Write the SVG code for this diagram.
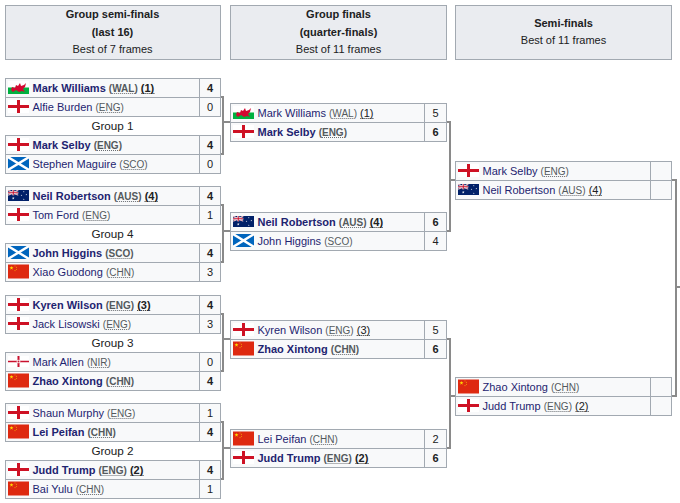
<svg xmlns="http://www.w3.org/2000/svg" xmlns:xlink="http://www.w3.org/1999/xlink" width="680" height="503" viewBox="0 0 680 503">
<style>
.hd{fill:#eaecf0;stroke:#a2a9b1;stroke-width:1}
.cell{fill:#f8f9fa;stroke:#a2a9b1;stroke-width:1}
text{font-family:"Liberation Sans",Arial,sans-serif;font-size:11px;fill:#202122}
.ht{text-anchor:middle}
.b{font-weight:bold}
.n{fill:#1e2470}
.c{font-size:10px;fill:#54595d}
.s{fill:#202122}
.sc{text-anchor:middle}
.g{text-anchor:middle;font-size:11.7px}
.con{fill:none;stroke:#8a8a8a;stroke-width:2}
.ul{fill:none;stroke:#6a6e72;stroke-width:1;stroke-dasharray:1,1}
.us{fill:none;stroke:#202122;stroke-width:1;stroke-dasharray:1,1}
</style>
<defs>
<clipPath id="cl13"><rect y="3" width="21" height="13"/></clipPath>
<clipPath id="cl11"><rect x="0" y="4" width="10.5" height="5.5"/></clipPath>
<path id="star" d="M0,-1 L0.2245,-0.309 L0.951,-0.309 L0.363,0.118 L0.588,0.809 L0,0.382 L-0.588,0.809 L-0.363,0.118 L-0.951,-0.309 L-0.2245,-0.309 Z"/>
<g id="eng"><rect y="3" width="21" height="13" fill="#fff"/><rect y="8" width="21" height="3" fill="#ce1124"/><rect x="9" y="3" width="3" height="13" fill="#ce1124"/></g>
<g id="wal"><rect y="3" width="21" height="6.5" fill="#fff"/><rect y="9.5" width="21" height="6.5" fill="#00b140"/><path d="M3,12 L4,9 L7,10 L8,7 L10,8 L12,5 L13,8 L16,7 L18,5 L17,9 L15,11 L17,14 L14,13 L11,14 L8,12 L5,14 Z" fill="#d30731"/></g>
<g id="sco"><rect y="3" width="21" height="13" fill="#0065bd"/><path d="M0,3 L21,16 M21,3 L0,16" stroke="#fff" stroke-width="2.4" clip-path="url(#cl13)"/></g>
<g id="aus"><rect y="4" width="21" height="11" fill="#012169"/><g clip-path="url(#cl11)"><path d="M0,4 L10.5,9.5 M10.5,4 L0,9.5" stroke="#fff" stroke-width="1.2"/><path d="M0,4 L10.5,9.5 M10.5,4 L0,9.5" stroke="#c8102e" stroke-width=".4"/><rect x="4.25" y="4" width="2" height="5.5" fill="#fff"/><rect x="0" y="5.75" width="10.5" height="2" fill="#fff"/><rect x="4.75" y="4" width="1" height="5.5" fill="#c8102e"/><rect x="0" y="6.25" width="10.5" height="1" fill="#c8102e"/></g><g fill="#fff"><use xlink:href="#star" transform="translate(5.25,12.3) scale(1.4)"/><use xlink:href="#star" transform="translate(15.75,13.3) scale(.8)"/><use xlink:href="#star" transform="translate(13.5,9.3) scale(.8)"/><use xlink:href="#star" transform="translate(15.75,5.8) scale(.8)"/><use xlink:href="#star" transform="translate(18.3,8.6) scale(.8)"/></g></g>
<g id="chn"><rect y="2.5" width="21" height="14" fill="#de2910"/><g fill="#ffde00"><use xlink:href="#star" transform="translate(3.5,6) scale(2.1)"/><use xlink:href="#star" transform="translate(7,3.9) scale(.7)"/><use xlink:href="#star" transform="translate(8.4,5.3) scale(.7)"/><use xlink:href="#star" transform="translate(8.4,7.4) scale(.7)"/><use xlink:href="#star" transform="translate(7,8.8) scale(.7)"/></g></g>
<g id="nir"><rect y="4" width="21" height="11" fill="#fff"/><rect y="8.75" width="21" height="1.5" fill="#c8102e"/><rect x="9.5" y="4" width="2" height="11" fill="#c8102e"/><circle cx="10.5" cy="9.5" r="1.8" fill="#fff"/><circle cx="10.5" cy="9.5" r="1" fill="#c8102e"/></g>
</defs>

<g id="headers">
<g id="h-col1"><rect class="hd" x="5.5" y="5.5" width="215" height="54"/>
<text class="ht b" x="112.5" y="18">Group semi-finals</text><text class="ht b" x="112.5" y="35.5">(last 16)</text><text class="ht" x="112.5" y="53">Best of 7 frames</text></g>
<g id="h-col2"><rect class="hd" x="230.5" y="5.5" width="216" height="54"/>
<text class="ht b" x="338.5" y="18">Group finals</text><text class="ht b" x="338.5" y="35.5">(quarter-finals)</text><text class="ht" x="338.5" y="53">Best of 11 frames</text></g>
<g id="h-col3"><rect class="hd" x="455.5" y="5.5" width="216" height="54"/>
<text class="ht b" x="563.5" y="26.5">Semi-finals</text><text class="ht" x="563.5" y="44">Best of 11 frames</text></g>
</g>

<g id="connectors">
<path class="con" d="M220,97 H223 V154 H220 M223,122 H230"/>
<path class="con" d="M220,205 H223 V262 H220 M223,231 H230"/>
<path class="con" d="M220,314 H223 V371 H220 M223,339 H230"/>
<path class="con" d="M220,422 H223 V479 H220 M223,448 H230"/>
<path class="con" d="M446,122 H450 V231 H446 M450,180 H455"/>
<path class="con" d="M446,339 H450 V448 H446 M450,396 H455"/>
<path class="con" d="M671,180 H676 V396 H671 M676,287 H680"/>
</g>

<!-- Column 1 -->
<g id="g1-m1">
<rect class="cell" x="5.5" y="78.5" width="194" height="19"/><rect class="cell" x="199.5" y="78.5" width="21" height="19"/>
<use xlink:href="#wal" x="8" y="78"/><text class="n b" x="32.5" y="91.5">Mark Williams <tspan class="c">(WAL)</tspan> <tspan class="s">(1)</tspan></text><text class="sc b" x="210" y="91.5">4</text>
<path class="ul" d="M112.2,93.5 H135"/><path class="us" d="M141.4,93.5 H154.8"/>
<rect class="cell" x="5.5" y="97.5" width="194" height="19"/><rect class="cell" x="199.5" y="97.5" width="21" height="19"/>
<use xlink:href="#eng" x="8" y="97"/><text class="n" x="32.5" y="110.5">Alfie Burden <tspan class="c">(ENG)</tspan></text><text class="sc" x="210" y="110.5">0</text>
<path class="ul" d="M98.8,112.5 H120.5"/>
</g>
<text id="lbl-g1" class="g" x="112.5" y="129.7">Group 1</text>
<g id="g1-m2">
<rect class="cell" x="5.5" y="135.5" width="194" height="19"/><rect class="cell" x="199.5" y="135.5" width="21" height="19"/>
<use xlink:href="#eng" x="8" y="135"/><text class="n b" x="32.5" y="148.5">Mark Selby <tspan class="c">(ENG)</tspan></text><text class="sc b" x="210" y="148.5">4</text>
<path class="ul" d="M97,150.5 H118.6"/>
<rect class="cell" x="5.5" y="154.5" width="194" height="19"/><rect class="cell" x="199.5" y="154.5" width="21" height="19"/>
<use xlink:href="#sco" x="8" y="154"/><text class="n" x="32.5" y="167.5">Stephen Maguire <tspan class="c">(SCO)</tspan></text><text class="sc" x="210" y="167.5">0</text>
<path class="ul" d="M122.7,169.5 H144.3"/>
</g>

<g id="g4-m1">
<rect class="cell" x="5.5" y="186.5" width="194" height="19"/><rect class="cell" x="199.5" y="186.5" width="21" height="19"/>
<use xlink:href="#aus" x="8" y="186"/><text class="n b" x="32.5" y="199.5">Neil Robertson <tspan class="c">(AUS)</tspan> <tspan class="s">(4)</tspan></text><text class="sc b" x="210" y="199.5">4</text>
<path class="ul" d="M117.1,201.5 H138.2"/><path class="us" d="M144.6,201.5 H158"/>
<rect class="cell" x="5.5" y="205.5" width="194" height="19"/><rect class="cell" x="199.5" y="205.5" width="21" height="19"/>
<use xlink:href="#eng" x="8" y="205"/><text class="n" x="32.5" y="218.5">Tom Ford <tspan class="c">(ENG)</tspan></text><text class="sc" x="210" y="218.5">1</text>
<path class="ul" d="M86.6,220.5 H108.2"/>
</g>
<text id="lbl-g4" class="g" x="112.5" y="237.7">Group 4</text>
<g id="g4-m2">
<rect class="cell" x="5.5" y="243.5" width="194" height="19"/><rect class="cell" x="199.5" y="243.5" width="21" height="19"/>
<use xlink:href="#sco" x="8" y="243"/><text class="n b" x="32.5" y="256.5">John Higgins <tspan class="c">(SCO)</tspan></text><text class="sc b" x="210" y="256.5">4</text>
<path class="ul" d="M108.6,258.5 H130.2"/>
<rect class="cell" x="5.5" y="262.5" width="194" height="19"/><rect class="cell" x="199.5" y="262.5" width="21" height="19"/>
<use xlink:href="#chn" x="8" y="262"/><text class="n" x="32.5" y="275.5">Xiao Guodong <tspan class="c">(CHN)</tspan></text><text class="sc" x="210" y="275.5">3</text>
<path class="ul" d="M109.2,277.5 H130.9"/>
</g>

<g id="g3-m1">
<rect class="cell" x="5.5" y="295.5" width="194" height="19"/><rect class="cell" x="199.5" y="295.5" width="21" height="19"/>
<use xlink:href="#eng" x="8" y="295"/><text class="n b" x="32.5" y="308.5">Kyren Wilson <tspan class="c">(ENG)</tspan> <tspan class="s">(3)</tspan></text><text class="sc b" x="210" y="308.5">4</text>
<path class="ul" d="M109.2,310.5 H130.9"/><path class="us" d="M137.2,310.5 H150.7"/>
<rect class="cell" x="5.5" y="314.5" width="194" height="19"/><rect class="cell" x="199.5" y="314.5" width="21" height="19"/>
<use xlink:href="#eng" x="8" y="314"/><text class="n" x="32.5" y="327.5">Jack Lisowski <tspan class="c">(ENG)</tspan></text><text class="sc" x="210" y="327.5">3</text>
<path class="ul" d="M106.1,329.5 H127.8"/>
</g>
<text id="lbl-g3" class="g" x="112.5" y="346.7">Group 3</text>
<g id="g3-m2">
<rect class="cell" x="5.5" y="352.5" width="194" height="19"/><rect class="cell" x="199.5" y="352.5" width="21" height="19"/>
<use xlink:href="#nir" x="8" y="352"/><text class="n" x="32.5" y="365.5">Mark Allen <tspan class="c">(NIR)</tspan></text><text class="sc" x="210" y="365.5">0</text>
<path class="ul" d="M90.8,367.5 H108.1"/>
<rect class="cell" x="5.5" y="371.5" width="194" height="19"/><rect class="cell" x="199.5" y="371.5" width="21" height="19"/>
<use xlink:href="#chn" x="8" y="371"/><text class="n b" x="32.5" y="384.5">Zhao Xintong <tspan class="c">(CHN)</tspan></text><text class="sc b" x="210" y="384.5">4</text>
<path class="ul" d="M109.2,386.5 H130.8"/>
</g>

<g id="g2-m1">
<rect class="cell" x="5.5" y="403.5" width="194" height="19"/><rect class="cell" x="199.5" y="403.5" width="21" height="19"/>
<use xlink:href="#eng" x="8" y="403"/><text class="n" x="32.5" y="416.5">Shaun Murphy <tspan class="c">(ENG)</tspan></text><text class="sc" x="210" y="416.5">1</text>
<path class="ul" d="M110.4,418.5 H132.1"/>
<rect class="cell" x="5.5" y="422.5" width="194" height="19"/><rect class="cell" x="199.5" y="422.5" width="21" height="19"/>
<use xlink:href="#chn" x="8" y="422"/><text class="n b" x="32.5" y="435.5">Lei Peifan <tspan class="c">(CHN)</tspan></text><text class="sc b" x="210" y="435.5">4</text>
<path class="ul" d="M90.9,437.5 H112.5"/>
</g>
<text id="lbl-g2" class="g" x="112.5" y="454.7">Group 2</text>
<g id="g2-m2">
<rect class="cell" x="5.5" y="460.5" width="194" height="19"/><rect class="cell" x="199.5" y="460.5" width="21" height="19"/>
<use xlink:href="#eng" x="8" y="460"/><text class="n b" x="32.5" y="473.5">Judd Trump <tspan class="c">(ENG)</tspan> <tspan class="s">(2)</tspan></text><text class="sc b" x="210" y="473.5">4</text>
<path class="ul" d="M102.5,475.5 H124.1"/><path class="us" d="M130.5,475.5 H144"/>
<rect class="cell" x="5.5" y="479.5" width="194" height="19"/><rect class="cell" x="199.5" y="479.5" width="21" height="19"/>
<use xlink:href="#chn" x="8" y="479"/><text class="n" x="32.5" y="492.5">Bai Yulu <tspan class="c">(CHN)</tspan></text><text class="sc" x="210" y="492.5">1</text>
<path class="ul" d="M79.9,494.5 H101.5"/>
</g>

<!-- Column 2 -->
<g id="qf1">
<rect class="cell" x="230.5" y="103.5" width="194" height="19"/><rect class="cell" x="424.5" y="103.5" width="22" height="19"/>
<use xlink:href="#wal" x="233" y="103"/><text class="n" x="257.5" y="116.5">Mark Williams <tspan class="c">(WAL)</tspan> <tspan class="s">(1)</tspan></text><text class="sc" x="435.5" y="116.5">5</text>
<path class="ul" d="M332.3,118.5 H354"/><path class="us" d="M360.4,118.5 H373.8"/>
<rect class="cell" x="230.5" y="122.5" width="194" height="19"/><rect class="cell" x="424.5" y="122.5" width="22" height="19"/>
<use xlink:href="#eng" x="233" y="122"/><text class="n b" x="257.5" y="135.5">Mark Selby <tspan class="c">(ENG)</tspan></text><text class="sc b" x="435.5" y="135.5">6</text>
<path class="ul" d="M322,137.5 H343.6"/>
</g>
<g id="qf2">
<rect class="cell" x="230.5" y="212.5" width="194" height="19"/><rect class="cell" x="424.5" y="212.5" width="22" height="19"/>
<use xlink:href="#aus" x="233" y="212"/><text class="n b" x="257.5" y="225.5">Neil Robertson <tspan class="c">(AUS)</tspan> <tspan class="s">(4)</tspan></text><text class="sc b" x="435.5" y="225.5">6</text>
<path class="ul" d="M342.1,227.5 H363.2"/><path class="us" d="M369.6,227.5 H383.1"/>
<rect class="cell" x="230.5" y="231.5" width="194" height="19"/><rect class="cell" x="424.5" y="231.5" width="22" height="19"/>
<use xlink:href="#sco" x="233" y="231"/><text class="n" x="257.5" y="244.5">John Higgins <tspan class="c">(SCO)</tspan></text><text class="sc" x="435.5" y="244.5">4</text>
<path class="ul" d="M327.5,246.5 H349.1"/>
</g>
<g id="qf3">
<rect class="cell" x="230.5" y="320.5" width="194" height="19"/><rect class="cell" x="424.5" y="320.5" width="22" height="19"/>
<use xlink:href="#eng" x="233" y="320"/><text class="n" x="257.5" y="333.5">Kyren Wilson <tspan class="c">(ENG)</tspan> <tspan class="s">(3)</tspan></text><text class="sc" x="435.5" y="333.5">5</text>
<path class="ul" d="M328.7,335.5 H350.4"/><path class="us" d="M356.7,335.5 H370.2"/>
<rect class="cell" x="230.5" y="339.5" width="194" height="19"/><rect class="cell" x="424.5" y="339.5" width="22" height="19"/>
<use xlink:href="#chn" x="233" y="339"/><text class="n b" x="257.5" y="352.5">Zhao Xintong <tspan class="c">(CHN)</tspan></text><text class="sc b" x="435.5" y="352.5">6</text>
<path class="ul" d="M334.2,354.5 H355.8"/>
</g>
<g id="qf4">
<rect class="cell" x="230.5" y="429.5" width="194" height="19"/><rect class="cell" x="424.5" y="429.5" width="22" height="19"/>
<use xlink:href="#chn" x="233" y="429"/><text class="n" x="257.5" y="442.5">Lei Peifan <tspan class="c">(CHN)</tspan></text><text class="sc" x="435.5" y="442.5">2</text>
<path class="ul" d="M312.8,444.5 H334.5"/>
<rect class="cell" x="230.5" y="448.5" width="194" height="19"/><rect class="cell" x="424.5" y="448.5" width="22" height="19"/>
<use xlink:href="#eng" x="233" y="448"/><text class="n b" x="257.5" y="461.5">Judd Trump <tspan class="c">(ENG)</tspan> <tspan class="s">(2)</tspan></text><text class="sc b" x="435.5" y="461.5">6</text>
<path class="ul" d="M327.5,463.5 H349.1"/><path class="us" d="M355.5,463.5 H369"/>
</g>

<!-- Column 3 -->
<g id="sf1">
<rect class="cell" x="455.5" y="161.5" width="195" height="19"/><rect class="cell" x="650.5" y="161.5" width="21" height="19"/>
<use xlink:href="#eng" x="458" y="161"/><text class="n" x="482.5" y="174.5">Mark Selby <tspan class="c">(ENG)</tspan></text>
<path class="ul" d="M543.9,176.5 H565.6"/>
<rect class="cell" x="455.5" y="180.5" width="195" height="19"/><rect class="cell" x="650.5" y="180.5" width="21" height="19"/>
<use xlink:href="#aus" x="458" y="180"/><text class="n" x="482.5" y="193.5">Neil Robertson <tspan class="c">(AUS)</tspan> <tspan class="s">(4)</tspan></text>
<path class="ul" d="M561.6,195.5 H582.2"/><path class="us" d="M588.6,195.5 H602"/>
</g>
<g id="sf2">
<rect class="cell" x="455.5" y="377.5" width="195" height="19"/><rect class="cell" x="650.5" y="377.5" width="21" height="19"/>
<use xlink:href="#chn" x="458" y="377"/><text class="n" x="482.5" y="390.5">Zhao Xintong <tspan class="c">(CHN)</tspan></text>
<path class="ul" d="M554.3,392.5 H576"/>
<rect class="cell" x="455.5" y="396.5" width="195" height="19"/><rect class="cell" x="650.5" y="396.5" width="21" height="19"/>
<use xlink:href="#eng" x="458" y="396"/><text class="n" x="482.5" y="409.5">Judd Trump <tspan class="c">(ENG)</tspan> <tspan class="s">(2)</tspan></text>
<path class="ul" d="M547.6,411.5 H569.3"/><path class="us" d="M575.6,411.5 H589.1"/>
</g>
</svg>
